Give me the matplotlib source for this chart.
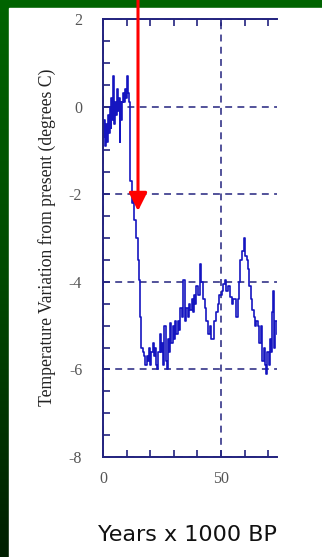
import matplotlib

matplotlib.use("Agg")
import matplotlib.pyplot as plt
import numpy as np
from matplotlib.patches import Rectangle
from matplotlib.ticker import MultipleLocator

plt.rcParams["axes.unicode_minus"] = False

# ice-core temperature record
years_kbp = [0.0, 0.4, 0.8, 1.2, 1.6, 2.0, 2.4, 2.8, 3.2, 3.6, 4.0, 4.2, 4.5, 5.0, 5.4,
             5.8, 6.2, 6.6, 7.0, 7.4, 7.8, 8.2, 8.6, 9.0, 9.4, 9.8, 10.2, 10.6, 11.0, 11.5,
             11.6, 12.3, 12.8, 13.2, 14.0, 14.8, 15.3, 15.7, 16.1, 16.9, 17.5, 17.8, 18.5,
             19.0, 19.5, 20.0, 20.5, 21.0, 21.5, 22.0, 22.5, 23.0, 23.5, 24.0, 24.5, 25.0,
             25.5, 26.0, 26.5, 27.0, 27.5, 28.0, 28.4, 29.0, 29.5, 30.0, 30.5, 31.0, 31.8,
             32.3, 32.8, 33.4, 33.9, 34.7, 35.3, 35.9, 36.4, 36.9, 37.5, 38.0, 38.5, 39.0,
             39.6, 40.2, 41.1, 41.7, 42.4, 43.0, 43.6, 44.5, 45.2, 45.9, 46.6, 47.2, 47.9,
             48.6, 49.3, 50.4, 51.0, 51.7, 52.3, 53.0, 53.8, 54.5, 55.2, 56.4, 57.0, 57.5,
             58.1, 58.8, 59.7, 60.3, 60.8, 61.4, 62.0, 62.6, 63.1, 63.8, 64.4, 65.0, 65.6,
             66.2, 66.8, 67.4, 68.0, 68.6, 69.1, 69.6, 70.2, 70.8, 71.3, 71.7, 72.0, 72.5,
             73.0, 73.5]
temp_c = [-0.7, -0.3, -0.9, -0.4, -0.8, -0.2, -0.6, 0.0, -0.5, 0.2, -0.3, 0.7, -0.4, 0.1, -0.2,
          0.4, -0.1, 0.2, -0.8, 0.1, -0.3, 0.1, 0.3, 0.1, 0.4, 0.2, 0.7, 0.3, 0.1, 0.1,
          -1.7, -2.2, -2.1, -2.6, -3.0, -3.5, -3.95, -4.8, -5.5, -5.6, -5.7, -5.9, -5.7,
          -5.8, -5.5, -5.9, -5.6, -5.4, -5.7, -5.5, -5.9, -6.0, -5.6, -5.2, -5.6, -5.4,
          -5.9, -5.0, -5.8, -6.0, -5.3, -5.6, -4.95, -5.4, -5.0, -5.3, -4.9, -5.2, -4.9,
          -5.1, -4.6, -4.8, -3.96, -4.9, -4.6, -4.8, -4.5, -4.65, -4.4, -4.7, -4.3, -4.5,
          -4.1, -4.3, -3.6, -4.0, -4.4, -4.6, -4.9, -5.2, -5.0, -5.3, -5.3, -4.9, -4.7,
          -4.5, -4.3, -4.2, -4.05, -3.95, -4.2, -4.1, -4.35, -4.5, -4.4, -4.8, -4.4, -4.0,
          -3.5, -3.3, -3.0, -3.4, -3.5, -3.7, -4.1, -4.4, -4.65, -4.8, -5.0, -4.9, -5.0,
          -5.4, -5.0, -5.8, -5.5, -5.9, -6.1, -5.6, -5.9, -5.3, -5.6, -4.7, -4.2, -5.5,
          -4.9, -5.2]

yticks_major = [-8, -6, -4, -2, 0, 2]
xticks_major = [0, 50]

W, H = 322, 557
fig = plt.figure(figsize=(W / 100, H / 100), dpi=100)

# green slide background with a darkening gradient, white panel on top
bg = fig.add_axes([0, 0, 1, 1])
grad = np.linspace(0, 1, 256).reshape(-1, 1)
bg.imshow(grad, aspect="auto", cmap=matplotlib.colors.LinearSegmentedColormap.from_list(
    "g", ["#006400", "#004a00", "#001f00"]), extent=[0, 1, 0, 1], origin="upper")
bg.add_patch(Rectangle((9 / W, 0), 1, 1 - 8 / H, color="white", transform=bg.transAxes))
bg.set_axis_off()

navy = "#23237f"
ax = fig.add_axes([103 / W, 1 - 457 / H, 174 / W, 438 / H])
ax.plot(years_kbp, temp_c, color="#1515c0", lw=1.2, drawstyle="steps-post")
ax.set_xlim(0, 73.7)
ax.set_ylim(-8, 2)
ax.set_xticks(xticks_major)
ax.set_yticks(yticks_major)
ax.xaxis.set_minor_locator(MultipleLocator(10))
ax.yaxis.set_minor_locator(MultipleLocator(0.5))
ax.grid(True, which="major", color=navy, ls=(0, (4.5, 3.5)), lw=1.1)
ax.tick_params(which="both", direction="in", color=navy, width=1.2, top=True, right=False)
ax.tick_params(which="major", length=5, labelsize=11.5, labelcolor="#555555")
ax.tick_params(which="minor", length=5)
ax.tick_params(axis="x", pad=10)
ax.tick_params(axis="y", pad=15)
for lab in ax.get_xticklabels() + ax.get_yticklabels():
    lab.set_family("Liberation Serif")
for side in ["left", "bottom", "top"]:
    ax.spines[side].set_color(navy)
    ax.spines[side].set_linewidth(1.4)
ax.spines["right"].set_visible(False)

fig.text(47 / W, 1 - 237 / H, "Temperature Variation from present (degrees C)",
         rotation=90, ha="center", va="center", family="Liberation Serif", fontsize=12.7,
         color="#222222")
fig.text(187 / W, 1 - 535 / H, "Years x 1000 BP", ha="center", va="center",
         family="DejaVu Sans", fontsize=16, color="#111111")

# red arrow from the top edge
fig.add_artist(matplotlib.patches.FancyArrowPatch(
    (138 / W, 1.0), (138 / W, 1 - 211 / H), transform=fig.transFigure,
    arrowstyle="-|>,head_length=11,head_width=5.5", color="#ff0000", lw=2.2,
    mutation_scale=1, shrinkA=0, shrinkB=0))

fig.savefig("out.png", dpi=100)
